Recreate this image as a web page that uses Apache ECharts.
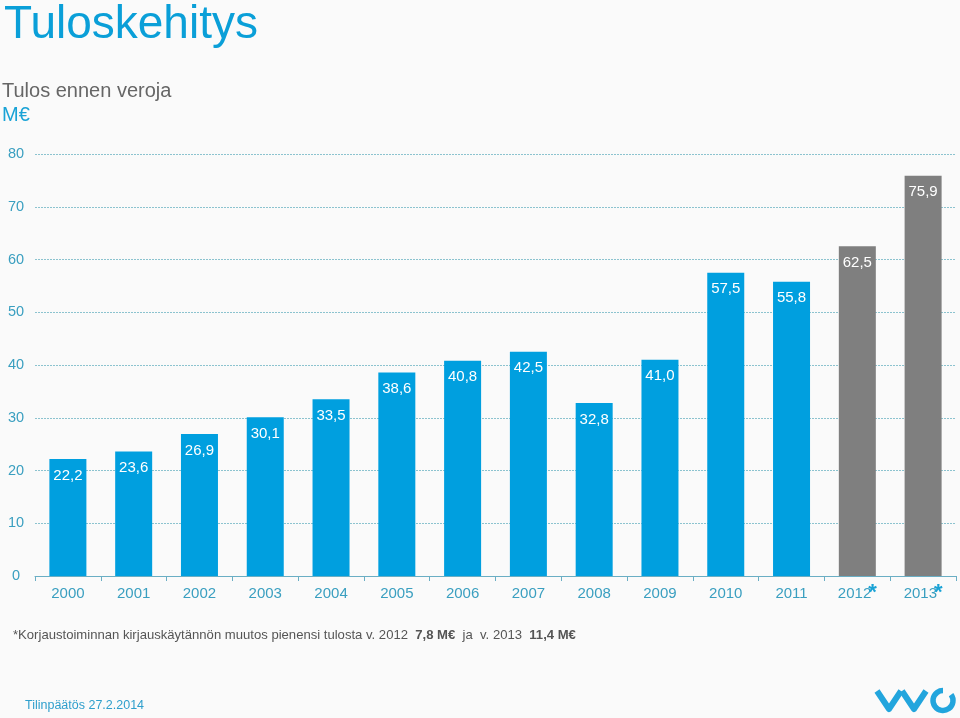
<!DOCTYPE html>
<html>
<head>
<meta charset="utf-8">
<script src="https://cdn.jsdelivr.net/npm/echarts@6/dist/echarts.min.js"></script>
<style>
html,body{margin:0;padding:0;background:#fafafa;}
#c{width:960px;height:718px;}
</style>
</head>
<body>
<div id="c"></div>
<script>
var categories = ['2000','2001','2002','2003','2004','2005','2006','2007','2008','2009','2010','2011','2012','2013'];
var starred = ['2012','2013'];
var values = [22.2, 23.6, 26.9, 30.1, 33.5, 38.6, 40.8, 42.5, 32.8, 41.0, 57.5, 55.8, 62.5, 75.9];
var yTicks = [0, 10, 20, 30, 40, 50, 60, 70, 80];

var BLUE = '#009fdf';
var GREY = '#7f7f7f';
var TEAL = '#3a9fc0';
var LOGO = '#22a5dd';

var chart = echarts.init(document.getElementById('c'));
var option = {
  backgroundColor: '#fafafa',
  animation: false,
  title: [
    {text: 'Tuloskehitys', left: 4, top: 2, padding: 0, textStyle: {fontFamily: 'Liberation Sans', fontSize: 46, fontWeight: 'normal', color: '#0a9fd8'}},
    {text: 'Tulos ennen veroja', left: 2, top: 81, padding: 0, textStyle: {fontFamily: 'Liberation Sans', fontSize: 20, fontWeight: 'normal', color: '#666666'}},
    {text: 'M€', left: 2, top: 105, padding: 0, textStyle: {fontFamily: 'Liberation Sans', fontSize: 20, fontWeight: 'normal', color: '#1aa3d6'}}
  ],
  grid: {left: 35, right: 4, top: 154, bottom: 142, containLabel: false},
  xAxis: {
    type: 'category',
    data: categories,
    boundaryGap: true,
    axisLine: {lineStyle: {color: '#6aaec4', width: 1}},
    axisTick: {show: true, length: 5, interval: 0, lineStyle: {color: '#6aaec4'}},
    axisLabel: {
      interval: 0,
      margin: 10,
      fontFamily: 'Liberation Sans',
      fontSize: 15,
      color: TEAL,
      formatter: function (v) {
        return starred.indexOf(v) >= 0 ? '{a|' + v + '}{s|*}' : '{a|' + v + '}';
      },
      rich: {
        a: {fontFamily: 'Liberation Sans', fontSize: 15, color: TEAL, lineHeight: 16},
        s: {fontFamily: 'Liberation Sans', fontSize: 22, fontWeight: 'bold', color: '#1aa3d6', lineHeight: 16, padding: [0, 0, 2, -3]}
      }
    }
  },
  yAxis: {
    type: 'value',
    min: 0, max: 80, interval: 10,
    axisLine: {show: false},
    axisTick: {show: false},
    axisLabel: {
      align: 'center', margin: 19,
      fontFamily: 'Liberation Sans', fontSize: 14.5, color: TEAL,
      formatter: function (v) { return yTicks.indexOf(v) >= 0 ? String(v) : ''; }
    },
    splitLine: {show: true, lineStyle: {color: '#8cc3cf', type: [2, 1], width: 1}}
  },
  series: [{
    type: 'bar',
    data: values.map(function (v, i) {
      return {value: v, itemStyle: {color: starred.indexOf(categories[i]) >= 0 ? GREY : BLUE}};
    }),
    barWidth: 37,
    label: {
      show: true, position: 'insideTop', distance: 9,
      color: '#ffffff', fontFamily: 'Liberation Sans', fontSize: 15,
      formatter: function (p) { return p.value.toFixed(1).replace('.', ','); }
    }
  }],
  graphic: [
    {type: 'text', left: 13, top: 629, style: {
      text: '*Korjaustoiminnan kirjauskäytännön muutos pienensi tulosta v. 2012  {b|7,8 M€}  ja  v. 2013  {b|11,4 M€}',
      fontFamily: 'Liberation Sans', fontSize: 13.1, fill: '#555555',
      rich: {b: {fontWeight: 'bold', fontFamily: 'Liberation Sans', fontSize: 13.1, fill: '#555555'}}
    }},
    {type: 'text', left: 25, top: 699, style: {text: 'Tilinpäätös 27.2.2014', fontFamily: 'Liberation Sans', fontSize: 12.5, fill: '#2f9fcc'}},
    {type: 'polyline', shape: {points: [[877, 691], [889, 709], [901, 691]]}, style: {stroke: LOGO, lineWidth: 6, fill: null, lineJoin: 'round', lineCap: 'butt'}},
    {type: 'polyline', shape: {points: [[902, 691], [914, 709], [926, 691]]}, style: {stroke: LOGO, lineWidth: 6, fill: null, lineJoin: 'round', lineCap: 'butt'}},
    {type: 'arc', shape: {cx: 943, cy: 700.5, r: 10, startAngle: -Math.PI / 5, endAngle: 1.5 * Math.PI, clockwise: true}, style: {stroke: LOGO, lineWidth: 5.5, fill: null}}
  ]
};
chart.setOption(option);
</script>
</body>
</html>
